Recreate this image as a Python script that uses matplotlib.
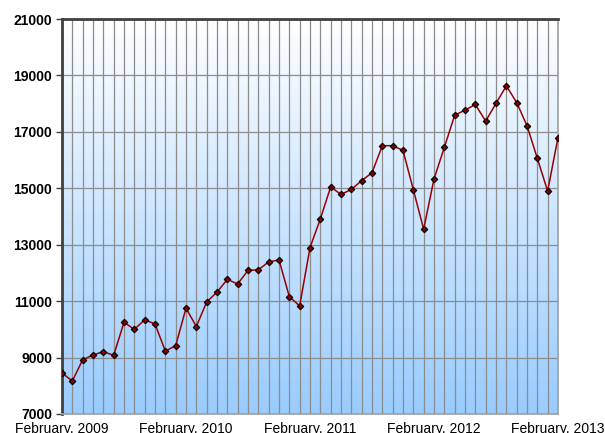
import numpy as np
import matplotlib
matplotlib.use("Agg")
import matplotlib.pyplot as plt

plt.rcParams['font.family'] = ['Liberation Sans', 'DejaVu Sans']

# monthly values, February 2009 .. February 2013
values = [8450, 8170, 8920, 9090, 9210, 9080, 10250, 10000, 10340, 10190,
          9230, 9420, 10750, 10100, 10970, 11320, 11770, 11610, 12090, 12110,
          12390, 12460, 11160, 10830, 12900, 13910, 15050, 14780, 14960, 15270,
          15550, 16510, 16510, 16340, 14950, 13550, 15330, 16450, 17590, 17770,
          17970, 17380, 18010, 18630, 18040, 17220, 16060, 14900, 16800]
year_labels = ["February, 2009", "February, 2010", "February, 2011",
               "February, 2012", "February, 2013"]
y_ticks = [7000, 9000, 11000, 13000, 15000, 17000, 19000, 21000]

x = np.arange(len(values))

fig = plt.figure(figsize=(6.05, 4.33), dpi=100)
ax = fig.add_axes([0.1025, 0.0439, 0.8198, 0.9122])

# vertical gradient background, white at top to light blue at bottom
grad = np.linspace(0, 1, 256).reshape(-1, 1)
top = np.array([1.0, 1.0, 1.0])
bottom = np.array([0.60, 0.80, 1.0])
img = top + grad * (bottom - top)
img = img.reshape(256, 1, 3)
ax.imshow(img, extent=[0, 1, 0, 1], transform=ax.transAxes, aspect='auto',
          zorder=0, interpolation='bilinear')

ax.set_xlim(0, len(values) - 1)
ax.set_ylim(7000, 21000)

# gridlines
for xi in x:
    ax.axvline(xi, color='#8c8c8c', lw=0.9, zorder=1)
for yv in y_ticks:
    ax.axhline(yv, color='#8c8c8c', lw=0.9, zorder=1)

ax.plot(x, values, color='#990000', lw=1.1, zorder=3,
        marker='D', markersize=3.3, markerfacecolor='#800000',
        markeredgecolor='black', markeredgewidth=0.8)

ax.set_yticks(y_ticks)
ax.set_yticklabels([str(v) for v in y_ticks], fontsize=10, fontweight='bold')
ax.set_xticks(x[::12])
ax.set_xticklabels(year_labels, fontsize=10)
ax.tick_params(axis='x', length=0, pad=6)
ax.tick_params(axis='y', length=4, width=1, color='#404040', pad=3)

for side in ['left', 'top']:
    ax.spines[side].set_color('#404040')
    ax.spines[side].set_linewidth(2)
for side in ['right', 'bottom']:
    ax.spines[side].set_color('#a0a0a0')
    ax.spines[side].set_linewidth(1.2)

fig.savefig('out.png', dpi=100)
